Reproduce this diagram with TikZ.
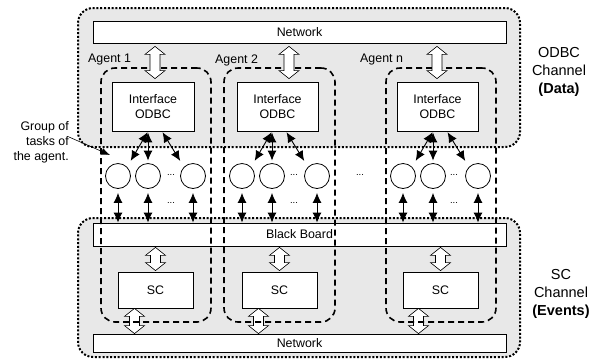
\documentclass[tikz,border=0pt]{standalone}
\usepackage{fontspec}
\setmainfont{Liberation Sans}
\usetikzlibrary{arrows.meta,calc}

\begin{document}
\begin{tikzpicture}[x=1pt,y=-1pt,
	every node/.style={font=\fontsize{12.4}{15}\selectfont},
	region_node/.style={draw,fill=gray!18,rounded corners=15pt,line width=2pt,dash pattern=on 2pt off 1.8pt,minimum width=442pt,minimum height=139pt,inner sep=0pt},
	bar_node/.style={draw,fill=white,line width=0.8pt,minimum width=413pt,inner sep=0pt},
	agent_node/.style={draw,rounded corners=14pt,line width=1.6pt,dash pattern=on 6pt off 4pt,minimum width=110pt,minimum height=254pt,inner sep=0pt},
	box_node/.style={draw,fill=white,line width=0.8pt,align=center,inner sep=0pt},
	task_node/.style={circle,draw,line width=0.8pt,minimum size=25pt,inner sep=0pt},
	dots_node/.style={font=\fontsize{9.5}{9.5}\selectfont,inner sep=0pt},
	task_arrow/.style={{Latex[length=10pt,width=9pt]}-{Latex[length=10pt,width=9pt]},line width=0.9pt},
	big_arrow/.style={draw,fill=white,line width=0.6pt,line join=miter,
		to path={let \p1=(\tikztostart), \p2=(\tikztotarget) in
			(\x1,\y1) -- (\x1+10pt,\y1-8pt) -- (\x1+5pt,\y1-8pt) -- (\x1+5pt,\y2+8pt) -- (\x1+10pt,\y2+8pt) -- (\x1,\y2)
			-- (\x1-10pt,\y2+8pt) -- (\x1-5pt,\y2+8pt) -- (\x1-5pt,\y1-8pt) -- (\x1-10pt,\y1-8pt) -- cycle}}]

	\useasboundingbox (0,0) rectangle (596,360);

	% channels
	\node[region_node] (odbc) at (299,77.5) {};
	\node[region_node] (scch) at (299,287.5) {};

	\node[bar_node,minimum height=22pt] (nt) at (299.5,32) {Network};
	\node[bar_node,minimum height=23pt] (bb) at (299.5,234.5) {Black Board};
	\node[bar_node,minimum height=18pt] (nb) at (299.5,343) {Network};

	% SC boxes and their arrows to the lower network
	\node[box_node,minimum width=75pt,minimum height=36pt] (s1) at (155.5,290) {SC};
	\node[box_node,minimum width=75pt,minimum height=36pt] (s2) at (279.5,290) {SC};
	\node[box_node,minimum width=75pt,minimum height=36pt] (sn) at (440.5,290) {SC};

	\draw[big_arrow] ([xshift=-21pt]s1.south) to ([xshift=-21pt]s1.south |- nb.north);
	\draw[big_arrow] ([xshift=-21pt]s2.south) to ([xshift=-21pt]s2.south |- nb.north);
	\draw[big_arrow] ([xshift=-22pt]sn.south) to ([xshift=-22pt]sn.south |- nb.north);

	% agents
	\node[agent_node] (a1) at (156,195) {};
	\node[agent_node,minimum width=111pt] (a2) at (279.5,195) {};
	\node[agent_node] (an) at (441,195) {};

	\node[anchor=west,inner sep=0pt] (la1) at (88,60) {Agent 1};
	\node[anchor=west,inner sep=0pt] (la2) at (215,60) {Agent 2};
	\node[anchor=west,inner sep=0pt] (lan) at (360,60) {Agent n};

	\coordinate (ax1) at (155,0);
	\coordinate (ax2) at (289,0);
	\coordinate (axn) at (437,0);

	\node[box_node,minimum width=82pt,minimum height=49pt] (i1) at (153,106.5) {Interface\\ODBC};
	\node[box_node,minimum width=81pt,minimum height=49pt] (i2) at (277.5,106.5) {Interface\\ODBC};
	\node[box_node,minimum width=81pt,minimum height=49pt] (in) at (437.5,106.5) {Interface\\ODBC};

	\draw[big_arrow] ([yshift=-3pt]nt.south -| ax1) to ([yshift=3pt]i1.north -| ax1);
	\draw[big_arrow] ([yshift=-3pt]nt.south -| ax2) to ([yshift=3pt]i2.north -| ax2);
	\draw[big_arrow] ([yshift=-3pt]nt.south -| axn) to ([yshift=3pt]in.north -| axn);

	\draw[big_arrow] ([yshift=-1pt]bb.south -| s1) to ([yshift=1pt]s1.north);
	\draw[big_arrow] ([yshift=-1pt]bb.south -| s2) to ([yshift=1pt]s2.north);
	\draw[big_arrow] ([yshift=-1pt]bb.south -| sn) to ([yshift=1pt]sn.north);

	% tasks
	\node[task_node] (t11) at (118,176) {};
	\node[task_node] (t12) at (148,176) {};
	\node[task_node] (t13) at (193,176) {};
	\node[task_node] (t21) at (242,176) {};
	\node[task_node] (t22) at (272,176) {};
	\node[task_node] (t23) at (317,176) {};
	\node[task_node] (tn1) at (403,176) {};
	\node[task_node] (tn2) at (433,176) {};
	\node[task_node] (tn3) at (478,176) {};

	\node[dots_node] (d1) at (171,175) {...};
	\node[dots_node] (d2) at (294,175) {...};
	\node[dots_node] (dn) at (454,175) {...};
	\node[dots_node] (dm) at (360,175) {...};
	\node[dots_node] (e1) at (171,203) {...};
	\node[dots_node] (e2) at (294,203) {...};
	\node[dots_node] (en) at (454,203) {...};

	\foreach \t in {t11,t12,t13,t21,t22,t23,tn1,tn2,tn3}
		\draw[task_arrow,shorten <=4pt] (\t.south) -- (\t.south |- bb.north);

	\foreach \i/\a/\b/\c in {i1/t11/t12/t13,i2/t21/t22/t23,in/tn1/tn2/tn3} {
		\draw[task_arrow,shorten <=1pt,shorten >=7pt] (\i.south -| \b) -- (\a.north east);
		\draw[task_arrow,shorten <=1pt,shorten >=2.5pt] (\i.south -| \b) -- (\b.north);
		\draw[task_arrow,shorten <=1pt,shorten >=7pt] ([xshift=14pt]\i.south -| \b) -- (\c.north west);
	}

	% side labels
	\node[align=right,anchor=east,inner sep=0pt] (grp) at (69,142) {Group of\\tasks of\\the agent.};
	\coordinate (gtip) at (110,155);
	\draw[-{Latex[length=9pt,width=7pt]},line width=0.6pt] ([yshift=5pt]grp.east) -- (gtip);

	\node[align=center,font=\fontsize{14.5}{18}\selectfont] (lodbc) at (559,72) {ODBC\\Channel\\\textbf{(Data)}};
	\node[align=center,font=\fontsize{14.5}{18}\selectfont] (lsc) at (561,294) {SC\\Channel\\\textbf{(Events)}};
\end{tikzpicture}
\end{document}
